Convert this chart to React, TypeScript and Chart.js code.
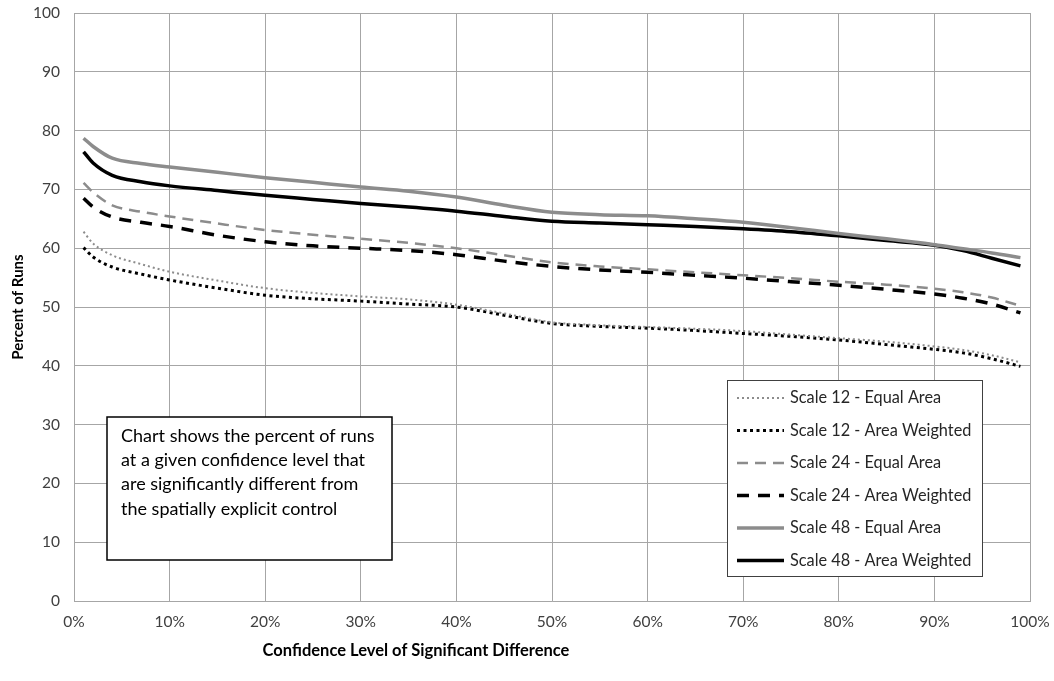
import { useEffect, useRef } from "react";
import { Chart, registerables } from "chart.js";

Chart.register(...registerables);

// ---- Data ----
const confidenceLevels = [1, 2, 4, 7, 10, 15, 20, 25, 30, 35, 40, 45, 50, 55, 60, 65, 70, 75, 80, 85, 90, 93, 96, 99];

const scale12EqualArea = [62.8, 60.8, 58.8, 57.3, 56.0, 54.5, 53.2, 52.4, 51.8, 51.3, 50.4, 48.9, 47.4, 46.9, 46.6, 46.3, 45.9, 45.3, 44.7, 44.1, 43.3, 42.7, 41.8, 40.6];
const scale12AreaWeighted = [60.1, 58.5, 56.8, 55.6, 54.6, 53.2, 52.0, 51.4, 51.0, 50.5, 50.0, 48.6, 47.2, 46.7, 46.4, 46.0, 45.5, 45.0, 44.4, 43.6, 42.8, 42.2, 41.2, 39.9];
const scale24EqualArea = [71.1, 69.5, 67.3, 66.2, 65.4, 64.2, 63.1, 62.3, 61.6, 60.9, 60.0, 58.8, 57.6, 56.9, 56.4, 55.9, 55.4, 54.9, 54.3, 53.8, 53.1, 52.5, 51.6, 50.2];
const scale24AreaWeighted = [68.5, 67.0, 65.3, 64.4, 63.7, 62.2, 61.1, 60.4, 60.0, 59.6, 58.9, 57.8, 56.9, 56.3, 55.9, 55.4, 54.9, 54.3, 53.7, 53.0, 52.2, 51.5, 50.5, 49.0];
const scale48EqualArea = [78.7, 77.3, 75.3, 74.4, 73.8, 72.9, 72.0, 71.2, 70.4, 69.7, 68.7, 67.3, 66.1, 65.7, 65.5, 65.0, 64.4, 63.5, 62.5, 61.6, 60.6, 59.9, 59.2, 58.4];
const scale48AreaWeighted = [76.4, 74.5, 72.4, 71.3, 70.6, 69.8, 69.0, 68.3, 67.6, 67.0, 66.3, 65.4, 64.6, 64.3, 64.0, 63.7, 63.3, 62.8, 62.1, 61.3, 60.5, 59.6, 58.3, 57.0];

const seriesNames = [
  "Scale 12 - Equal Area",
  "Scale 12 - Area Weighted",
  "Scale 24 - Equal Area",
  "Scale 24 - Area Weighted",
  "Scale 48 - Equal Area",
  "Scale 48 - Area Weighted",
];

const xAxisTitle = "Confidence Level of Significant Difference";
const yAxisTitle = "Percent of Runs";
const noteLines = [
  "Chart shows the percent of runs",
  "at a given confidence level that",
  "are significantly different from",
  "the spatially explicit control",
];

const GRAY = "#8c8c8c";
const BLACK = "#000000";
const FONT = "Lato, 'Open Sans', sans-serif";

const seriesStyles = [
  { color: GRAY, width: 2, dash: [2, 3] },
  { color: BLACK, width: 3, dash: [3, 3.5] },
  { color: GRAY, width: 2.5, dash: [11, 7] },
  { color: BLACK, width: 3.5, dash: [12, 9] },
  { color: GRAY, width: 3.5, dash: [] as number[] },
  { color: BLACK, width: 3.5, dash: [] as number[] },
];

const seriesValues = [
  scale12EqualArea,
  scale12AreaWeighted,
  scale24EqualArea,
  scale24AreaWeighted,
  scale48EqualArea,
  scale48AreaWeighted,
];

const overlayPlugin = {
  id: "overlay",
  afterDraw(chart: any) {
    const ctx = chart.ctx as CanvasRenderingContext2D;
    const area = chart.chartArea;
    ctx.save();

    // Axis titles
    ctx.fillStyle = "#000";
    ctx.font = `bold 16.5px ${FONT}`;
    ctx.textAlign = "center";
    ctx.textBaseline = "middle";
    ctx.fillText(xAxisTitle, 416, 651);

    ctx.save();
    ctx.translate(18, (area.top + area.bottom) / 2);
    ctx.rotate(-Math.PI / 2);
    ctx.font = `bold 15px ${FONT}`;
    ctx.fillText(yAxisTitle, 0, 0);
    ctx.restore();

    // Note box
    ctx.fillStyle = "#fff";
    ctx.fillRect(107, 417, 285, 143);
    ctx.strokeStyle = "#000";
    ctx.lineWidth = 1.5;
    ctx.strokeRect(107, 417, 285, 143);
    ctx.fillStyle = "#000";
    ctx.font = `18px ${FONT}`;
    ctx.textAlign = "left";
    ctx.textBaseline = "middle";
    noteLines.forEach((line, i) => {
      ctx.fillText(line, 121, 436 + i * 24.3);
    });

    // Legend box
    ctx.fillStyle = "#fff";
    ctx.fillRect(728, 381, 254, 196);
    ctx.strokeStyle = "#404040";
    ctx.lineWidth = 1;
    ctx.strokeRect(727.5, 380.5, 255, 196);
    ctx.font = `16.3px ${FONT}`;
    seriesNames.forEach((name, i) => {
      const y = 398 + i * 32.5;
      const st = seriesStyles[i];
      ctx.beginPath();
      ctx.strokeStyle = st.color;
      ctx.lineWidth = st.width;
      ctx.setLineDash(st.dash);
      ctx.moveTo(737, y);
      ctx.lineTo(784, y);
      ctx.stroke();
      ctx.setLineDash([]);
      ctx.fillStyle = "#262626";
      ctx.fillText(name, 790, y);
    });

    ctx.restore();
  },
};

export default function App() {
  const canvasRef = useRef<HTMLCanvasElement | null>(null);

  useEffect(() => {
    document.body.style.margin = "0";
    const canvas = canvasRef.current;
    if (!canvas) return;

    const datasets = seriesNames.map((name, i) => ({
      label: name,
      data: confidenceLevels.map((x, j) => ({ x, y: seriesValues[i][j] })),
      borderColor: seriesStyles[i].color,
      borderWidth: seriesStyles[i].width,
      borderDash: seriesStyles[i].dash,
      pointRadius: 0,
      fill: false,
      cubicInterpolationMode: "monotone" as const,
    }));

    const chart = new Chart(canvas, {
      type: "line",
      data: { datasets },
      options: {
        responsive: false,
        animation: false,
        layout: { padding: { left: 0, top: 13, right: 24, bottom: 0 } },
        plugins: {
          legend: { display: false },
          tooltip: { enabled: false },
        },
        scales: {
          x: {
            type: "linear",
            min: 0,
            max: 100,
            ticks: {
              stepSize: 10,
              callback: (v: any) => `${v}%`,
              color: "#404040",
              font: { family: FONT, size: 15.5 },
              padding: 12,
              maxRotation: 0,
            },
            grid: { color: "#a6a6a6", lineWidth: 1, drawTicks: false },
            border: { color: "#a6a6a6" },
            afterFit: (scale: any) => {
              scale.height = 80;
              scale.paddingLeft = 0;
              scale.paddingRight = 0;
            },
          },
          y: {
            min: 0,
            max: 100,
            ticks: {
              stepSize: 10,
              color: "#404040",
              font: { family: FONT, size: 15.5 },
              padding: 14,
            },
            grid: { color: "#a6a6a6", lineWidth: 1, drawTicks: false },
            border: { color: "#a6a6a6" },
            afterFit: (scale: any) => {
              scale.width = 74;
              scale.paddingTop = 0;
              scale.paddingBottom = 0;
            },
          },
        },
      },
      plugins: [overlayPlugin],
    });

    return () => chart.destroy();
  }, []);

  return <canvas ref={canvasRef} width={1054} height={681} style={{ display: "block" }} />;
}
